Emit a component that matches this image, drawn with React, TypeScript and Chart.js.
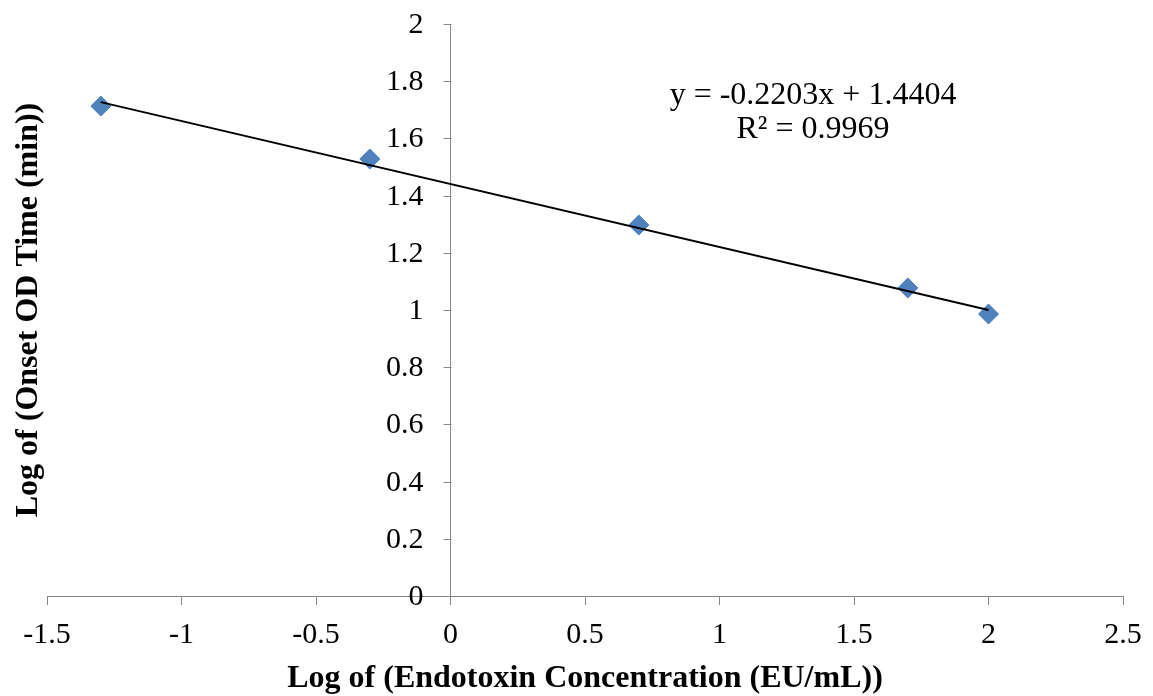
import React, { useEffect, useRef } from "react";
import { Chart, registerables } from "chart.js";

Chart.register(...registerables);

const pointX = [-1.3, -0.3, 0.7, 1.7, 2.0];
const pointY = [1.713, 1.528, 1.297, 1.077, 0.986];
const trendX = [-1.3, 2.0];
const trendY = [1.727, 1.0];
const equationLines = ["y = -0.2203x + 1.4404", "R² = 0.9969"];
const xTitle = "Log of (Endotoxin Concentration (EU/mL))";
const yTitle = "Log of (Onset OD Time (min))";

const FONT_FAMILY = "'Times New Roman', 'Liberation Serif', serif";
const AXIS_GRAY = "#868686";

const fmt = (v: number | string) => String(Number(Number(v).toFixed(2)));

const zeroPad = (scale: any) => {
  scale.paddingTop = 0;
  scale.paddingBottom = 0;
  scale.paddingLeft = 0;
  scale.paddingRight = 0;
};

const textPlugin = {
  id: "customText",
  afterDraw(chart: any) {
    const { ctx, chartArea } = chart;
    const xs = chart.scales.x;
    const ys = chart.scales.y;
    const x0 = Math.round(xs.getPixelForValue(0)) + 0.5;
    ctx.save();
    // y tick marks and labels
    ctx.strokeStyle = AXIS_GRAY;
    ctx.lineWidth = 1;
    ctx.fillStyle = "#000";
    ctx.font = `30px ${FONT_FAMILY}`;
    ctx.textAlign = "right";
    ctx.textBaseline = "middle";
    ys.ticks.forEach((t: any) => {
      const py = Math.round(ys.getPixelForValue(t.value)) + 0.5;
      ctx.beginPath();
      ctx.moveTo(x0 - 8, py);
      ctx.lineTo(x0, py);
      ctx.stroke();
      ctx.fillText(fmt(t.value), x0 - 28, py + 1);
    });
    // equation
    ctx.font = `32px ${FONT_FAMILY}`;
    ctx.textAlign = "center";
    ctx.textBaseline = "alphabetic";
    ctx.fillText(equationLines[0], 813, 104);
    ctx.fillText(equationLines[1], 813, 138);
    // x title
    ctx.font = `bold 32px ${FONT_FAMILY}`;
    ctx.fillText(xTitle, (chartArea.left + chartArea.right) / 2, 687);
    // y title
    ctx.translate(37, (chartArea.top + chartArea.bottom) / 2);
    ctx.rotate(-Math.PI / 2);
    ctx.fillText(yTitle, 0, 0);
    ctx.restore();
  },
};

export default function App() {
  const ref = useRef<HTMLCanvasElement | null>(null);
  useEffect(() => {
    if (!ref.current) return;
    const chart = new Chart(ref.current, {
      type: "scatter",
      data: {
        datasets: [
          {
            type: "line",
            data: trendX.map((x, i) => ({ x, y: trendY[i] })),
            borderColor: "#000",
            borderWidth: 1.8,
            pointRadius: 0,
            fill: false,
          } as any,
          {
            data: pointX.map((x, i) => ({ x, y: pointY[i] })),
            pointStyle: "rectRot",
            pointRadius: 10,
            backgroundColor: "#4F81BD",
            borderColor: "#4A7EBB",
            borderWidth: 1,
          },
        ],
      },
      options: {
        responsive: false,
        animation: false,
        devicePixelRatio: 1,
        layout: { padding: { left: 47, right: 30, top: 24, bottom: 100 } },
        plugins: { legend: { display: false }, tooltip: { enabled: false } },
        scales: {
          x: {
            type: "linear",
            position: { y: 0 } as any,
            min: -1.5,
            max: 2.5,
            afterFit: zeroPad,
            ticks: {
              stepSize: 0.5,
              color: "#000",
              font: { family: FONT_FAMILY, size: 30 },
              padding: 13,
              callback: (v: any) => fmt(v),
            },
            grid: { drawOnChartArea: false, drawTicks: true, tickLength: 8, color: AXIS_GRAY },
            border: { color: AXIS_GRAY, width: 1 },
          },
          y: {
            type: "linear",
            position: { x: 0 } as any,
            min: 0,
            max: 2,
            afterFit: zeroPad,
            ticks: {
              stepSize: 0.2,
              display: false,
              font: { family: FONT_FAMILY, size: 30 },
            },
            grid: { drawOnChartArea: false, drawTicks: false, color: AXIS_GRAY },
            border: { color: AXIS_GRAY, width: 1 },
          },
        },
      },
      plugins: [textPlugin],
    });
    return () => chart.destroy();
  }, []);
  return (
    <div style={{ position: "fixed", left: 0, top: 0, width: 1153, height: 696, background: "#fff" }}>
      <canvas ref={ref} width={1153} height={696} />
    </div>
  );
}
